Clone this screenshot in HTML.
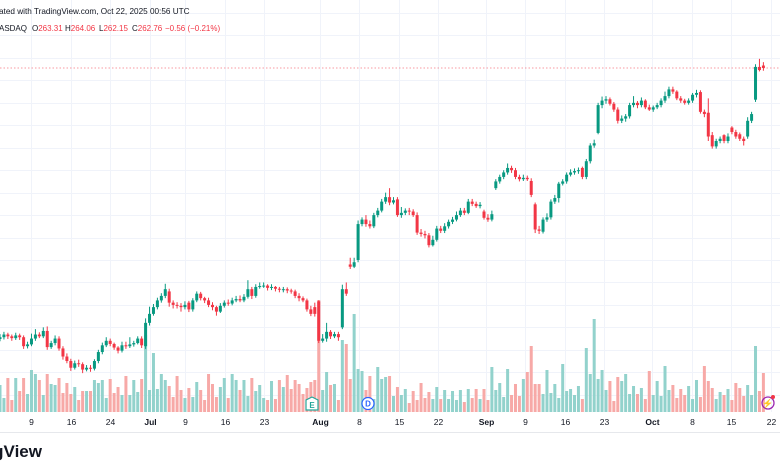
<!DOCTYPE html>
<html><head><meta charset="utf-8"><style>
html,body{margin:0;padding:0;background:#fff;width:780px;height:470px;overflow:hidden;font-family:"Liberation Sans",sans-serif}
svg{position:absolute;left:0;top:0}
</style></head><body>
<svg id="chart" width="780" height="470" viewBox="0 0 780 470">
<g id="grid"></g>
<g id="vol"></g>
<line x1="0" x2="780" y1="68" y2="68" stroke="#f23645" stroke-opacity="0.5" stroke-dasharray="1.5,2"/>
<g id="candles"></g>
<line x1="0" x2="780" y1="432.5" y2="432.5" stroke="#e6e8ec"/>
<g id="xaxis"></g>
<text x="-1" y="14" style="font-size:8.2px" fill="#131722">ated with TradingView.com, Oct 22, 2025 00:56 UTC</text>
<g style="font-size:8px" fill="#f23645">
<text x="27" y="31" fill="#131722" text-anchor="end">NASDAQ</text>
<text x="32" y="31"><tspan fill="#131722">O</tspan>263.31</text>
<text x="65" y="31"><tspan fill="#131722">H</tspan>264.06</text>
<text x="99" y="31"><tspan fill="#131722">L</tspan>262.15</text>
<text x="132" y="31"><tspan fill="#131722">C</tspan>262.76</text>
<text x="165" y="31">−0.56 (−0.21%)</text>
</g>
<g>
<path d="M312 397 L318 400 L318 410 L306 410 L306 400 Z" fill="#fff" stroke="#26a69a" stroke-width="1.2"/>
<text x="312" y="408" style="font-size:8px;font-weight:bold" fill="#26a69a" text-anchor="middle">E</text>
</g>
<g>
<circle cx="368" cy="403.5" r="6" fill="#fff" stroke="#2962ff" stroke-width="1.2"/>
<text x="368" y="406.5" style="font-size:8px;font-weight:bold" fill="#2962ff" text-anchor="middle">D</text>
</g>
<g>
<circle cx="768" cy="403" r="6" fill="none" stroke="#9c27b0" stroke-width="1.3"/>
<text x="768" y="406.5" style="font-size:9px" fill="#9c27b0" text-anchor="middle">⚡</text>
<circle cx="773" cy="397" r="2" fill="#f23645"/>
</g>
<text x="42" y="457" style="font-size:17px;font-weight:bold" fill="#131722" text-anchor="end">gView</text>
</svg>
<script>
const opens=[202.4,202.8,203.4,203.0,202.6,203.2,202.8,200.8,201.2,202.5,203.4,203.0,204.2,200.6,201.5,202.5,200.3,198.5,197.5,196.0,197.0,196.8,195.6,196.0,195.8,197.5,199.5,201.0,202.0,201.3,200.5,199.8,201.0,200.8,201.2,201.5,202.5,200.8,206.0,208.0,209.5,211.0,212.0,213.0,210.5,210.0,209.8,209.5,210.5,209.0,211.0,212.5,211.5,211.0,210.0,209.5,208.5,209.8,210.5,210.3,211.0,211.3,211.0,211.8,213.5,212.0,214.0,214.2,214.3,213.8,214.0,213.6,213.5,213.5,213.2,213.0,212.0,211.5,211.0,209.0,209.5,210.8,202.0,202.5,204.0,203.0,203.5,205.0,213.5,219.0,218.5,220.0,228.0,229.0,228.0,227.5,230.0,231.0,233.0,234.0,232.8,233.5,230.0,230.5,231.0,230.8,230.0,226.1,225.8,225.5,223.3,224.5,227.0,226.5,227.5,228.5,229.0,230.0,231.0,230.5,233.0,232.5,232.0,230.8,229.4,229.0,236.0,237.5,238.5,239.5,240.5,240.0,238.5,238.0,238.3,237.6,232.4,226.8,226.3,229.0,229.5,233.0,233.8,237.0,237.5,239.0,239.5,239.8,240.5,238.5,242.0,245.5,248.3,254.5,255.5,255.8,254.8,253.5,251.0,251.5,252.0,254.5,255.0,254.5,255.5,254.0,253.5,254.0,254.5,255.5,256.5,258.0,257.5,256.0,255.5,255.0,255.5,256.8,257.4,253.0,252.8,247.8,245.3,246.5,247.8,246.5,249.5,248.5,248.0,247.0,247.5,251.0,255.7,263.0,263.31];
const highs=[203.5,204.0,203.8,203.4,203.8,203.6,203.2,201.8,203.6,204.6,203.9,205.0,205.2,202.0,203.2,203.0,200.8,199.2,198.0,197.6,197.8,197.2,196.6,196.6,197.9,200.0,201.6,202.8,202.5,201.6,200.8,201.8,201.8,202.8,202.0,203.0,203.0,207.0,209.6,210.2,211.6,212.6,214.7,213.6,211.0,210.6,210.4,210.8,210.9,211.5,213.0,212.9,211.8,211.6,210.6,209.8,210.4,211.0,211.2,211.6,212.0,212.1,212.4,215.5,214.0,214.6,215.0,215.0,214.6,214.6,214.2,214.0,214.0,213.9,213.6,213.4,212.6,211.9,211.4,209.8,210.5,211.0,203.5,206.0,204.4,204.0,204.0,214.5,215.0,220.5,220.5,228.8,229.5,230.0,228.8,230.5,231.6,233.6,235.0,236.0,234.0,234.0,231.8,231.5,231.6,231.3,230.6,226.9,226.5,226.0,225.4,227.6,227.6,228.2,229.0,229.6,230.8,231.6,231.6,233.6,233.6,233.0,232.9,231.2,230.2,231.0,238.0,239.0,240.0,241.5,241.0,240.5,239.0,239.0,238.8,238.2,232.8,227.6,229.5,230.4,233.5,234.5,237.4,238.0,239.5,240.2,240.4,240.6,240.8,242.5,246.0,246.8,255.0,256.4,256.5,256.2,255.2,254.0,252.2,252.5,255.0,256.5,255.4,256.2,255.8,254.6,254.4,255.0,256.0,257.5,258.6,258.6,257.8,256.5,255.9,256.0,257.2,257.9,257.8,253.5,256.0,248.5,247.0,247.5,248.0,248.2,249.8,249.0,248.4,247.5,251.8,253.0,263.6,264.8,264.06];
const lows=[201.9,202.3,202.4,202.0,202.2,202.2,200.2,200.3,200.8,202.0,202.6,202.6,200.0,200.2,201.0,199.8,197.8,197.0,195.3,195.6,196.2,194.8,195.2,195.1,195.4,197.0,199.0,200.6,200.8,200.0,199.2,199.4,200.2,200.4,200.7,201.2,200.4,200.2,205.4,207.6,209.0,210.5,211.5,209.6,209.2,209.2,208.5,209.0,208.4,208.5,210.6,211.0,210.4,209.5,208.8,207.6,208.2,209.4,209.8,209.9,210.6,210.6,210.6,211.4,211.3,211.6,213.6,213.8,213.2,213.3,213.0,212.8,212.8,212.6,212.5,211.5,210.8,210.6,208.5,207.5,207.4,201.5,201.6,201.8,202.4,202.6,202.0,204.6,212.0,218.0,218.2,219.5,227.5,227.4,227.0,227.1,229.5,230.6,232.5,232.2,232.4,229.6,229.4,230.0,230.0,229.6,225.6,225.2,224.8,222.8,223.0,224.1,226.0,226.0,227.0,228.0,228.6,229.6,230.0,230.2,232.0,231.6,231.5,229.0,228.5,228.6,235.6,237.0,238.0,239.0,239.4,238.0,237.5,237.6,237.6,234.0,226.0,225.8,225.9,228.5,229.0,232.5,232.8,236.6,237.0,238.6,239.0,239.2,238.0,238.0,241.5,245.0,248.0,253.8,254.8,254.4,253.0,250.4,250.5,250.8,251.5,254.0,253.8,254.0,253.6,253.2,253.0,253.6,254.0,255.0,256.0,257.0,255.6,255.0,254.6,254.6,255.0,256.2,252.6,251.8,246.5,244.8,244.8,246.0,246.0,246.0,248.0,247.0,246.5,245.5,247.0,250.5,255.2,262.0,262.15];
const closes=[202.8,203.4,203.0,202.6,203.2,202.8,200.8,201.2,202.5,203.4,203.0,204.2,200.6,201.5,202.5,200.3,198.5,197.5,196.0,197.0,196.8,195.6,196.0,195.8,197.5,199.5,201.0,202.0,201.3,200.5,199.8,201.0,200.8,201.2,201.5,202.5,201.0,206.0,208.0,209.5,211.0,212.0,213.5,210.5,210.0,209.8,209.5,210.0,209.0,211.0,212.5,211.5,211.0,210.0,209.5,208.5,209.8,210.5,210.3,211.0,211.3,211.0,211.8,213.5,212.0,214.0,214.2,214.3,213.8,214.0,213.6,213.5,213.5,213.2,213.0,212.0,211.5,211.0,209.0,208.0,208.0,202.0,202.5,204.0,203.0,203.5,202.8,213.5,212.5,218.5,219.5,228.0,229.0,228.0,227.5,230.0,231.0,233.0,234.0,232.8,233.3,230.0,230.5,231.0,230.8,230.0,226.1,225.8,225.5,223.3,224.5,227.0,226.5,227.5,228.5,229.0,230.0,231.0,230.5,233.0,232.5,232.0,232.3,229.4,229.0,230.2,237.5,238.5,239.5,240.5,240.0,238.5,238.0,238.3,238.0,234.5,226.8,226.5,229.0,229.5,233.0,233.8,237.0,237.5,239.0,239.5,239.8,240.0,238.5,242.0,245.5,246.0,254.5,255.5,255.8,254.8,253.5,251.0,251.5,252.0,254.5,255.0,254.5,255.5,254.0,253.5,254.0,254.5,255.5,256.5,258.0,257.5,256.0,255.5,255.0,255.5,256.8,257.2,253.0,252.5,247.5,245.3,246.5,247.0,246.5,247.5,248.5,247.5,247.0,246.5,251.0,252.5,263.0,262.3,262.76];
const volumes=[27,14,34,12,34,21,34,18,42,38,32,17,38,28,27,34,19,29,18,25,12,21,21,21,32,29,32,14,33,19,25,17,36,17,32,20,33,77,22,59,23,38,32,26,15,36,22,14,24,15,30,22,12,38,28,15,25,34,14,38,32,22,32,16,34,21,27,14,12,31,13,32,25,37,23,32,28,18,24,30,32,112,22,40,27,28,12,72,68,33,98,43,41,22,36,13,45,33,35,36,16,25,17,23,9,21,12,29,14,20,13,25,13,22,13,21,12,22,10,23,14,23,13,23,12,45,22,29,15,43,17,28,16,33,40,66,28,28,18,42,19,28,14,48,21,23,17,26,13,64,38,93,33,42,22,31,11,35,31,38,18,26,18,24,13,41,17,31,16,46,22,27,14,23,17,26,13,32,15,46,31,24,13,20,17,23,12,29,24,16,27,17,66,21,39];
const tickLabels=["9","16","24","Jul","9","16","23","Aug","8","15","22","Sep","9","16","23","Oct","8","15","22"];
const tickBars=[8,18,28,38.1,47,57.2,67.1,81.3,91.2,101.4,111.3,123.5,133.4,143.6,153.5,165.7,175.9,185.8,196];
const tickBold=[0,0,0,1,0,0,0,1,0,0,0,1,0,0,0,1,0,0,0];
const priceGrid=[185,190,195,200,205,210,215,220,225,230,235,240,245,250,255,260,265,270,275];

const NS="http://www.w3.org/2000/svg";
const STEP=3.935, X0=0, REFP=262.76, REFY=68, K=4.49, VBASE=412, VK=1.0;
const xOf=i=>X0+i*STEP;
const yOf=p=>REFY+(REFP-p)*K;
function mk(tag,attrs,parent){const e=document.createElementNS(NS,tag);for(const k in attrs)e.setAttribute(k,attrs[k]);parent.appendChild(e);return e;}
const grid=document.getElementById('grid');
priceGrid.forEach(p=>{const y=Math.round(yOf(p))+0.5;if(y>0&&y<VBASE){
 const l=mk('line',{x1:0,x2:780,y1:y,y2:y,stroke:'#f0f3fa'},grid);
 
 }});
const xa=document.getElementById('xaxis');
tickBars.forEach((b,i)=>{const x=Math.round(xOf(b))+0.5;
 const l=mk('line',{x1:x,x2:x,y1:0,y2:VBASE,stroke:'#f0f3fa'},grid);
 
 
 const t=mk('text',{x:x,y:425,fill:'#131722','text-anchor':'middle',style:'font-size:8.5px;font-weight:'+(tickBold[i]?'bold':'normal')},xa);
 t.textContent=tickLabels[i];
 
 });
const vg=document.getElementById('vol'),cg=document.getElementById('candles');
closes.forEach((c,i)=>{const o=opens[i],up=c>=o,x=xOf(i);
 const h=volumes[i]*VK;
 const vb=mk('rect',{x:x-1.5,y:VBASE-h,width:3,height:h,fill:up?'#92d2cc':'#f7a9a7'},vg);
 
 
 const col=up?'#089981':'#f23645';
 const w=mk('line',{x1:x,x2:x,y1:yOf(highs[i]),y2:yOf(lows[i]),stroke:col,'stroke-width':1},cg);
 
 
 const yt=yOf(Math.max(o,c)),yb=yOf(Math.min(o,c));
 const b=mk('rect',{x:x-1.5,y:yt,width:3,height:Math.max(1,yb-yt),fill:col},cg);
 
 });
</script>
</body></html>
